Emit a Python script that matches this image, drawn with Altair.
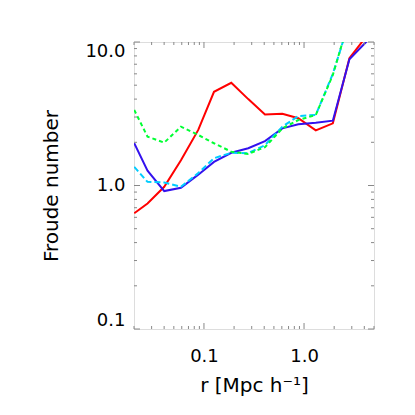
import altair as alt
import pandas as pd

# Radii [Mpc/h]
r = [0.0201, 0.0273, 0.0401, 0.0589, 0.0877, 0.126, 0.1875, 0.277, 0.407,
     0.607, 0.877, 1.31, 1.94, 2.84, 4.17, 6.1]

red = [0.64, 0.75, 0.98, 1.5, 2.44, 4.5, 5.2, 4.0, 3.13, 3.16, 2.94, 2.42,
       2.71, 7.7, 10.9, 14.0]
blue = [1.97, 1.27, 0.915, 0.965, 1.19, 1.46, 1.69, 1.82, 2.04, 2.5, 2.67,
        2.74, 2.83, 7.58, 10.0, 13.0]
cyan = [1.35, 1.06, 1.05, 0.98, 1.22, 1.55, 1.69, 1.68, 1.91, 2.57, 3.05,
        3.1, 6.0, 14.0, 18.0, 22.0]
green = [3.36, 2.19, 1.99, 2.57, 2.25, 1.97, 1.72, 1.66, 1.85, 2.5, 2.86,
         3.1, 5.9, 14.5, 18.0, 22.0]

x_major = [0.1, 1.0]
x_minor = [0.02, 0.03, 0.04, 0.05, 0.06, 0.07, 0.08, 0.09,
           0.2, 0.3, 0.4, 0.5, 0.6, 0.7, 0.8, 0.9, 2, 3, 4, 5]
y_major = [0.1, 1.0, 10.0]
y_minor = [0.2, 0.3, 0.4, 0.5, 0.6, 0.7, 0.8, 0.9, 2, 3, 4, 5, 6, 7, 8, 9]

FONT = "DejaVu Sans"
GRAY = "#888888"

xscale = alt.Scale(type="log", domain=[0.02, 5.0], nice=False)
yscale = alt.Scale(type="log", domain=[0.1, 10.0], nice=False)

W, H = 240, 287

xaxis = alt.Axis(title="r [Mpc h⁻¹]", values=x_major,
                 format=".1f", domain=False, ticks=False,
                 grid=False, labelFont=FONT, labelFontSize=18,
                 labelPadding=18, labelColor="black",
                 titleFont=FONT, titleFontSize=20,
                 titleFontWeight="normal", titleColor="black",
                 titleY=62, titleBaseline="alphabetic")
yaxis = alt.Axis(title="Froude number", values=y_major,
                 format=".1f",
                 domain=False, ticks=False, grid=False,
                 labelFont=FONT, labelFontSize=18,
                 labelPadding=9, labelColor="black",
                 labelFlush=True,
                 titleFont=FONT, titleFontSize=20,
                 titleFontWeight="normal", titleColor="black",
                 titleX=-77, titleY=H / 2,
                 titleBaseline="alphabetic",
                 titleAlign="center", titleAngle=270)

xenc = alt.X("r:Q", scale=xscale, axis=xaxis)
yenc = alt.Y("F:Q", scale=yscale, axis=yaxis)

series = [("red", red, "#ff0000", []),
          ("blue", blue, "#3311ee", []),
          ("cyan", cyan, "#00ccff", [6, 3]),
          ("green", green, "#00ff33", [4, 3])]

layers = []
for name, vals, color, dash in series:
    df = pd.DataFrame({"r": r, "F": vals})
    props = dict(color=color, strokeWidth=2, clip=True)
    if dash:
        props["strokeDash"] = dash
    layers.append(alt.Chart(df).mark_line(**props).encode(x=xenc, y=yenc))


# inward tick marks on all four sides
def xticks(vals, length):
    df = pd.DataFrame({"r": vals})
    bottom = alt.Chart(df).mark_rule(color=GRAY, strokeWidth=1).encode(
        x=xenc, y=alt.value(H), y2=alt.value(H - length))
    top = alt.Chart(df).mark_rule(color=GRAY, strokeWidth=1).encode(
        x=xenc, y=alt.value(0), y2=alt.value(length))
    return [bottom, top]


def yticks(vals, length):
    df = pd.DataFrame({"F": vals})
    left = alt.Chart(df).mark_rule(color=GRAY, strokeWidth=1).encode(
        y=yenc, x=alt.value(0), x2=alt.value(length))
    right = alt.Chart(df).mark_rule(color=GRAY, strokeWidth=1).encode(
        y=yenc, x=alt.value(W), x2=alt.value(W - length))
    return [left, right]


tick_layers = (xticks(x_minor, 3) + xticks(x_major, 6) +
               yticks(y_minor, 3) + yticks(y_major, 6))

chart = alt.layer(*layers, *tick_layers).properties(
    width=W, height=H,
    autosize="none",
    padding={"left": 126, "top": 34, "right": 20, "bottom": 76},
).configure_view(stroke=GRAY, strokeWidth=1).configure(background="white")

chart.save("out.html", embed_options={"renderer": "svg", "actions": False})
